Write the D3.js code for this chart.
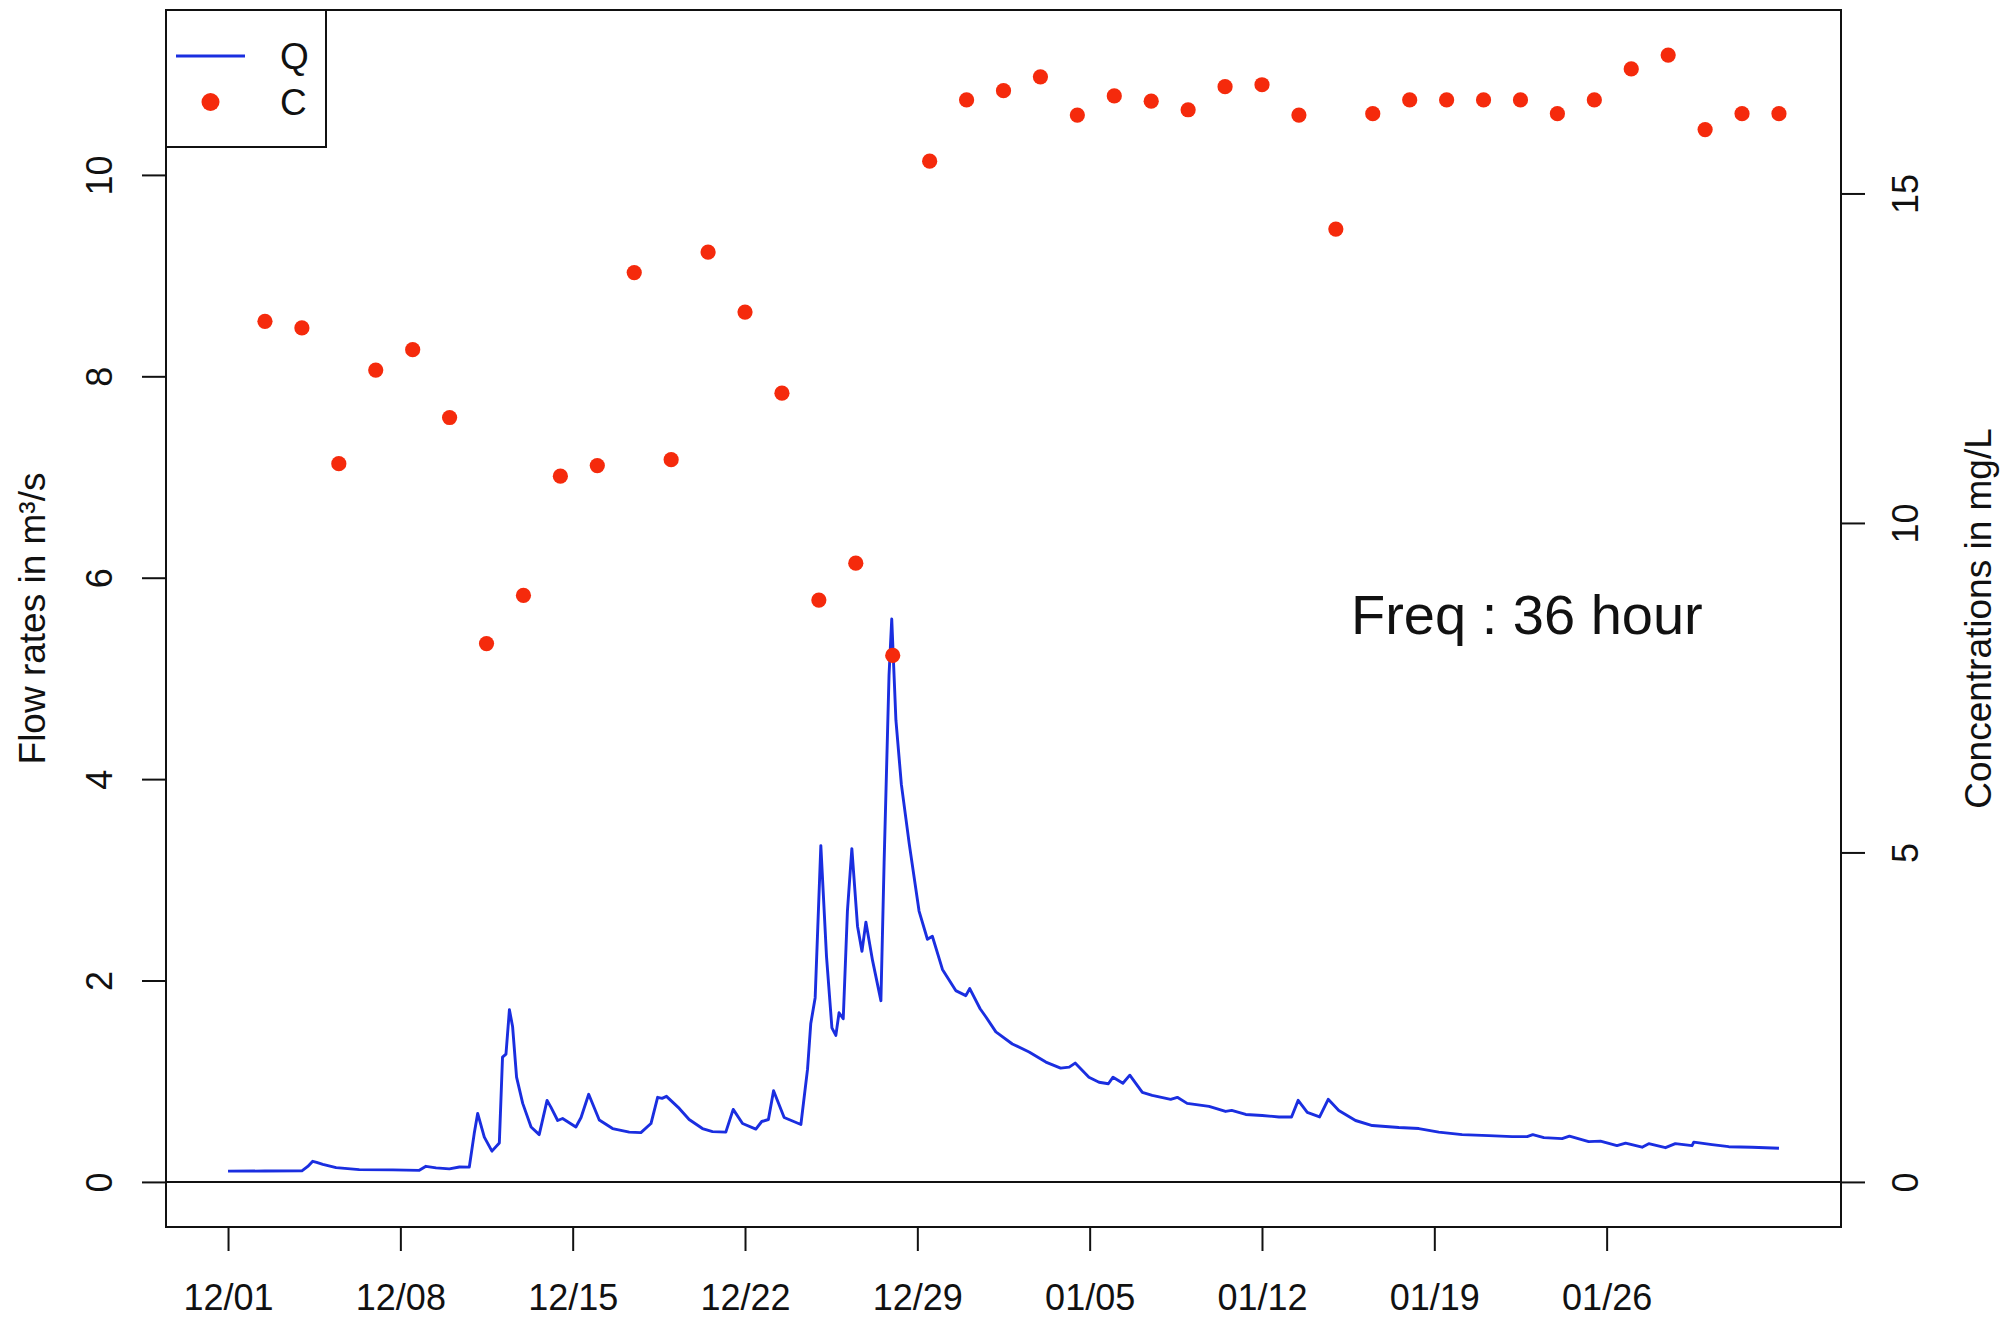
<!DOCTYPE html>
<html>
<head>
<meta charset="utf-8">
<script src="https://cdn.jsdelivr.net/npm/d3@7"></script>
<style>
  html, body { margin: 0; padding: 0; background: #fff; }
  svg { display: block; font-family: "Liberation Sans", Arial, Helvetica, sans-serif; }
</style>
</head>
<body>
<svg id="chart" width="2007" height="1319"></svg>
<script>
// flow rate Q (m3/s): days since 12/01 00:00 and value
const qDay = [0, 1.5, 3.0, 3.24, 3.44, 3.6, 3.85, 4.39, 5.33, 6.69, 7.77, 8.04, 8.45, 8.99, 9.4, 9.8,
  10.0, 10.14, 10.41, 10.72, 11.02, 11.15, 11.29, 11.43, 11.56, 11.72, 11.97, 12.31, 12.64, 12.96, 13.12,
  13.39, 13.59, 14.13, 14.34, 14.65, 15.08, 15.62, 16.3, 16.77, 17.18, 17.45, 17.63, 17.81, 18.33, 18.73,
  19.27, 19.68, 20.22, 20.52, 20.9, 21.44, 21.68, 21.95, 22.16, 22.59, 23.27, 23.54, 23.67, 23.85, 24.08,
  24.31, 24.53, 24.69, 24.82, 24.99, 25.16, 25.34, 25.57, 25.75, 25.91, 26.18, 26.52, 26.65, 26.85, 26.96,
  27.13, 27.35, 27.67, 28.07, 28.41, 28.61, 29.02, 29.56, 29.97, 30.13, 30.55, 30.78, 31.19, 31.86, 32.54,
  33.22, 33.82, 34.17, 34.41, 34.97, 35.38, 35.76, 35.95, 36.35, 36.63, 37.14, 37.54, 38.29, 38.56, 38.96,
  39.85, 40.52, 40.77, 41.34, 42.01, 42.69, 43.2, 43.47, 43.84, 44.34, 44.69, 45.12, 45.8, 46.48, 47.56,
  48.37, 49.18, 50.13, 51.21, 52.16, 52.77, 53.0, 53.45, 54.19, 54.49, 55.27, 55.75, 56.42, 56.77, 57.44,
  57.71, 58.39, 58.79, 59.47, 59.54, 60.28, 60.96, 61.9, 63.0];
const qFlow = [0.107, 0.108, 0.11, 0.154, 0.205, 0.195, 0.175, 0.142, 0.122, 0.12, 0.115, 0.155, 0.14, 0.13, 0.148, 0.147,
  0.48, 0.68, 0.445, 0.306, 0.386, 1.24, 1.27, 1.71, 1.54, 1.04, 0.78, 0.545, 0.47, 0.81, 0.74,
  0.61, 0.63, 0.545, 0.64, 0.87, 0.615, 0.53, 0.495, 0.49, 0.58, 0.84, 0.83, 0.85, 0.73, 0.62,
  0.53, 0.5, 0.495, 0.72, 0.58, 0.525, 0.6, 0.62, 0.905, 0.64, 0.57, 1.12, 1.57, 1.83, 3.34,
  2.24, 1.53, 1.455, 1.68, 1.62, 2.69, 3.31, 2.54, 2.29, 2.58, 2.2, 1.8, 3.17, 5.03, 5.59,
  4.585, 3.95, 3.36, 2.69, 2.41, 2.44, 2.11, 1.9, 1.85, 1.92, 1.72, 1.64, 1.49, 1.37, 1.29,
  1.19, 1.13, 1.14, 1.18, 1.04, 0.99, 0.975, 1.04, 0.98, 1.06, 0.89, 0.86, 0.82, 0.84, 0.78,
  0.75, 0.7, 0.71, 0.67, 0.66, 0.645, 0.645, 0.81, 0.69, 0.645, 0.82, 0.71, 0.61, 0.56, 0.54,
  0.53, 0.495, 0.47, 0.46, 0.45, 0.45, 0.47, 0.44, 0.43, 0.455, 0.4, 0.405, 0.36, 0.385, 0.345,
  0.38, 0.34, 0.38, 0.36, 0.395, 0.37, 0.35, 0.345, 0.335];

// concentration samples (mg/L), one every 36 hours
const cHour = [36, 72, 108, 144, 180, 216, 252, 288, 324, 360, 396, 432, 468, 504, 540, 576, 612, 648, 684, 720, 756,
  792, 828, 864, 900, 936, 972, 1008, 1044, 1080, 1116, 1152, 1188, 1224, 1260, 1296, 1332, 1368, 1404, 1440, 1476, 1512];
const cConc = [13.06, 12.96, 10.9, 12.32, 12.63, 11.6, 8.17, 8.9, 10.71, 10.87, 13.8, 10.96, 14.11, 13.2, 11.97, 8.83, 9.39,
  7.99, 15.49, 16.42, 16.56, 16.77, 16.19, 16.48, 16.4, 16.27, 16.62, 16.65, 16.19, 14.46, 16.21, 16.42, 16.42, 16.42,
  16.42, 16.21, 16.42, 16.89, 17.1, 15.97, 16.21, 16.21];

const xTicks = ["2016-12-01", "2016-12-08", "2016-12-15", "2016-12-22", "2016-12-29",
  "2017-01-05", "2017-01-12", "2017-01-19", "2017-01-26"];
const leftTicks = [0, 2, 4, 6, 8, 10];
const rightTicks = [0, 5, 10, 15];

const start = Date.UTC(2016, 11, 1);
const dayToDate = d => new Date(start + d * 864e5);

const box = {left: 166, right: 1841, top: 10, bottom: 1227};

const x = d3.scaleUtc()
  .domain([dayToDate(-2.52), dayToDate(65.52)])
  .range([box.left, box.right]);
const yQ = d3.scaleLinear().domain([-0.4476, 11.6376]).range([box.bottom, box.top]);
const yC = d3.scaleLinear().domain([-0.684, 17.784]).range([box.bottom, box.top]);

const svg = d3.select("#chart");
svg.append("rect").attr("width", 2007).attr("height", 1319).attr("fill", "#fff");

// zero line
svg.append("line")
  .attr("x1", box.left).attr("x2", box.right)
  .attr("y1", yQ(0)).attr("y2", yQ(0))
  .attr("stroke", "#111").attr("stroke-width", 2);

// Q line
const qData = qDay.map((d, i) => ({date: dayToDate(d), v: qFlow[i]}));
svg.append("path")
  .datum(qData)
  .attr("fill", "none")
  .attr("stroke", "#1a2ee0")
  .attr("stroke-width", 2.9)
  .attr("stroke-linejoin", "round")
  .attr("d", d3.line().x(d => x(d.date)).y(d => yQ(d.v)));

// C points
const cData = cHour.map((h, i) => ({date: new Date(start + h * 36e5), v: cConc[i]}));
svg.selectAll(".pt")
  .data(cData)
  .enter()
  .append("circle")
  .attr("class", "pt")
  .attr("cx", d => x(d.date))
  .attr("cy", d => yC(d.v))
  .attr("r", 7.6)
  .attr("fill", "#f52a0c");

// plot box
svg.append("rect")
  .attr("x", box.left).attr("y", box.top)
  .attr("width", box.right - box.left).attr("height", box.bottom - box.top)
  .attr("fill", "none").attr("stroke", "#111").attr("stroke-width", 2);

// axes
const parse = d3.utcParse("%Y-%m-%d");
const gx = svg.append("g")
  .attr("transform", `translate(0,${box.bottom})`)
  .call(d3.axisBottom(x).tickValues(xTicks.map(parse)).tickFormat(d3.utcFormat("%m/%d")).tickSize(24));
gx.select(".domain").remove();
gx.selectAll("line").attr("stroke", "#111").attr("stroke-width", 2);
gx.selectAll("text").attr("y", 83).attr("dy", 0)
  .attr("font-size", 36).attr("font-family", null).attr("fill", "#111");

const gl = svg.append("g")
  .attr("transform", `translate(${box.left},0)`)
  .call(d3.axisLeft(yQ).tickValues(leftTicks).tickSize(24));
gl.select(".domain").remove();
gl.selectAll("line").attr("stroke", "#111").attr("stroke-width", 2);
gl.selectAll("text")
  .attr("transform", "rotate(-90)")
  .attr("x", 0).attr("y", -54).attr("dy", 0)
  .attr("text-anchor", "middle")
  .attr("font-size", 36).attr("font-family", null).attr("fill", "#111");

const gr = svg.append("g")
  .attr("transform", `translate(${box.right},0)`)
  .call(d3.axisRight(yC).tickValues(rightTicks).tickSize(24));
gr.select(".domain").remove();
gr.selectAll("line").attr("stroke", "#111").attr("stroke-width", 2);
gr.selectAll("text")
  .attr("transform", "rotate(-90)")
  .attr("x", 0).attr("y", 77).attr("dy", 0)
  .attr("text-anchor", "middle")
  .attr("font-size", 36).attr("font-family", null).attr("fill", "#111");

// axis titles
const midY = (box.top + box.bottom) / 2;
svg.append("text")
  .attr("transform", `translate(45,${midY}) rotate(-90)`)
  .attr("text-anchor", "middle")
  .attr("font-size", 37).attr("fill", "#111")
  .text("Flow rates in m³/s");
svg.append("text")
  .attr("transform", `translate(1991,${midY}) rotate(-90)`)
  .attr("text-anchor", "middle")
  .attr("font-size", 37).attr("fill", "#111")
  .text("Concentrations in mg/L");

// annotation
svg.append("text")
  .attr("x", 1351).attr("y", 634)
  .attr("font-size", 56).attr("fill", "#111")
  .text("Freq : 36 hour");

// legend
const lg = svg.append("g");
lg.append("rect")
  .attr("x", 166).attr("y", 10).attr("width", 160).attr("height", 137)
  .attr("fill", "#fff").attr("stroke", "#111").attr("stroke-width", 2);
lg.append("line")
  .attr("x1", 176).attr("x2", 245).attr("y1", 56).attr("y2", 56)
  .attr("stroke", "#1a2ee0").attr("stroke-width", 2.9);
lg.append("circle")
  .attr("cx", 210.5).attr("cy", 102).attr("r", 9)
  .attr("fill", "#f52a0c");
lg.append("text").attr("x", 280).attr("y", 69).attr("font-size", 37).attr("fill", "#111").text("Q");
lg.append("text").attr("x", 280).attr("y", 115).attr("font-size", 37).attr("fill", "#111").text("C");
</script>
</body>
</html>
